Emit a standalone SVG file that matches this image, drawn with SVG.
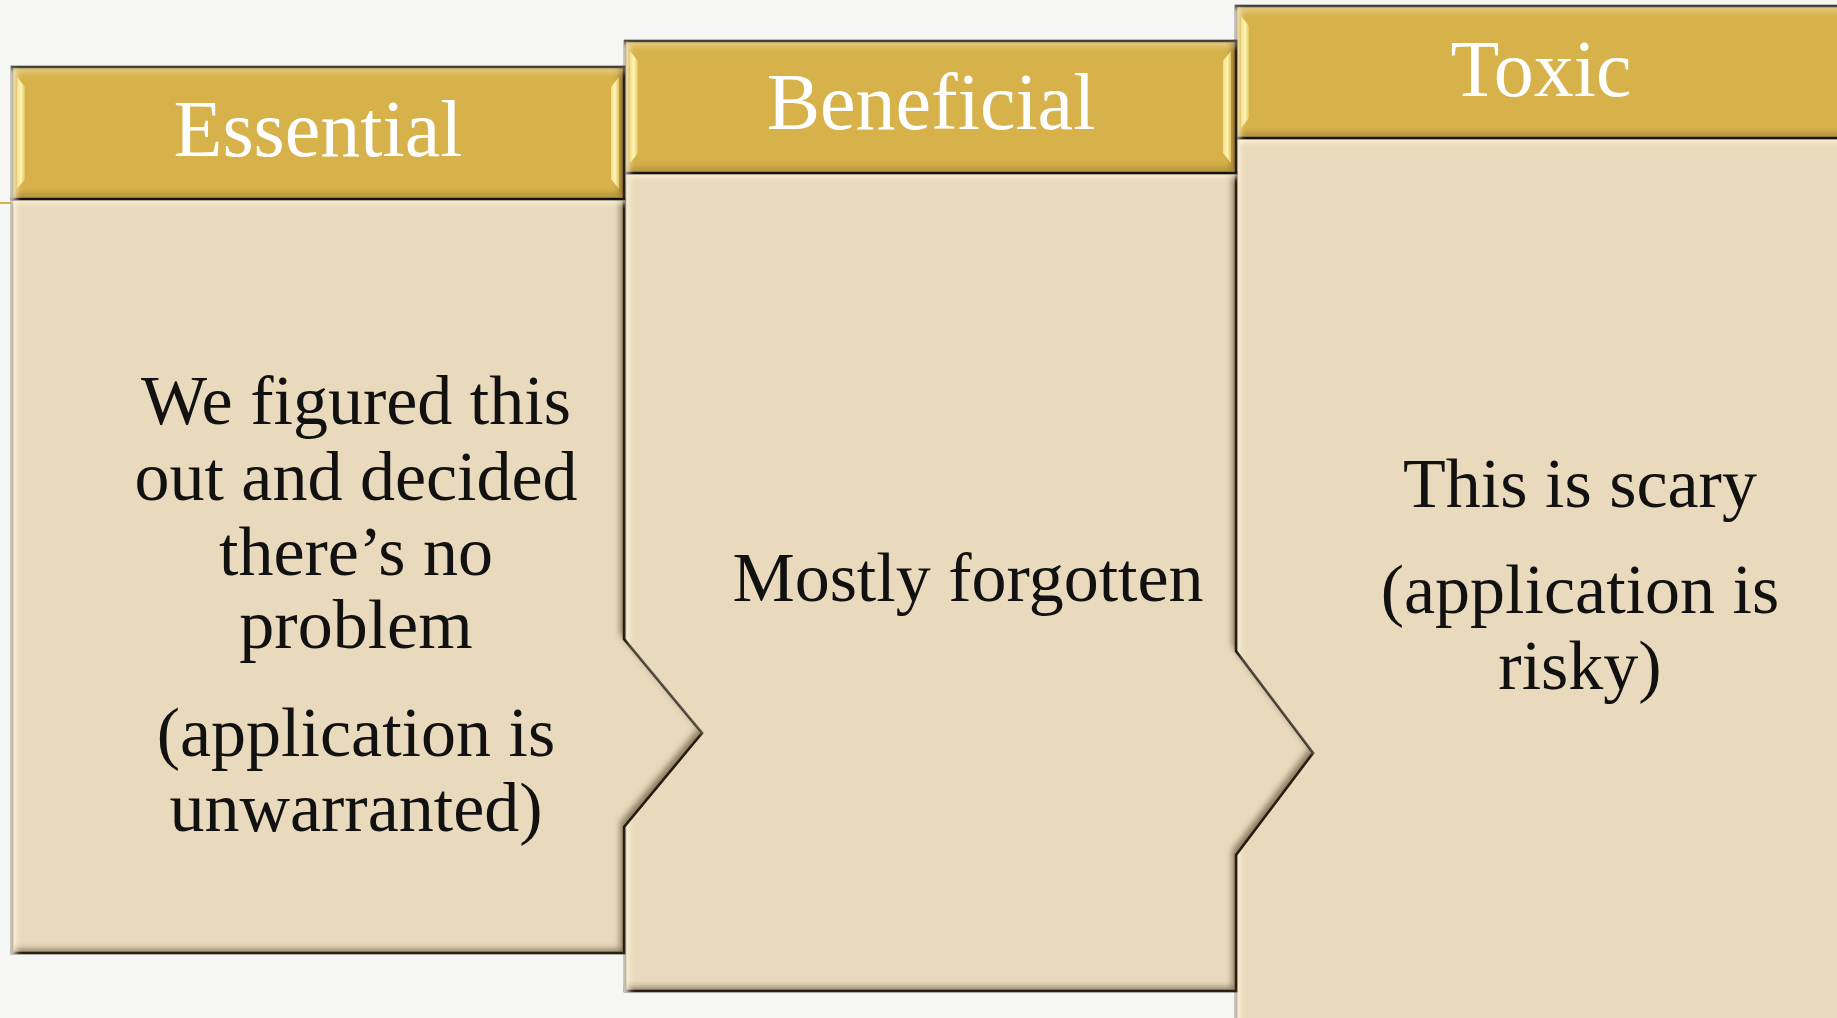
<svg xmlns="http://www.w3.org/2000/svg" width="1837" height="1018" viewBox="0 0 1837 1018">
<defs>
<style>
.hdr{fill:#D7B24A;stroke:#111;stroke-width:2.5}
.body{fill:#EADABD;stroke:#111;stroke-width:2.5}
.ht{font-family:"Liberation Serif","Times New Roman",serif;font-size:80px;fill:#FFFFFF;text-anchor:middle}
.bt{font-family:"Liberation Serif","Times New Roman",serif;font-size:70px;fill:#111;text-anchor:middle}
.side{fill:url(#sideGrad)}
</style>
<linearGradient id="sideGrad" x1="0" y1="0" x2="1" y2="0">
<stop offset="0" stop-color="#F3DE86"/>
<stop offset="0.5" stop-color="#FFF6B8"/>
<stop offset="1" stop-color="#E2C45E"/>
</linearGradient>
<filter id="bevel" x="-3%" y="-3%" width="106%" height="106%" color-interpolation-filters="sRGB">
<feFlood flood-color="#3a2a10" flood-opacity="0.55" result="f"/>
<feComposite in="f" in2="SourceAlpha" operator="out" result="outside"/>
<feOffset in="outside" dx="-5" dy="-5" result="o1"/>
<feGaussianBlur in="o1" stdDeviation="3" result="b1"/>
<feComposite in="b1" in2="SourceAlpha" operator="in" result="shadow"/>
<feFlood flood-color="#FFF6E0" flood-opacity="0.85" result="f2"/>
<feComposite in="f2" in2="SourceAlpha" operator="out" result="outside2"/>
<feOffset in="outside2" dx="5" dy="5" result="o2"/>
<feGaussianBlur in="o2" stdDeviation="3" result="b2"/>
<feComposite in="b2" in2="SourceAlpha" operator="in" result="hl"/>
<feMerge><feMergeNode in="SourceGraphic"/><feMergeNode in="shadow"/><feMergeNode in="hl"/></feMerge>
</filter>
</defs>
<rect width="1837" height="1018" fill="#F6F6F5"/>
<rect x="0" y="202" width="11" height="2" fill="#D7B24A"/>

<g id="toxic">
<path class="body" filter="url(#bevel)" d="M1236,138 H1848 V1040 H1236 Z"/>
<rect class="hdr" filter="url(#bevel)" x="1236" y="6" width="612" height="132"/>
<polygon class="side" points="1241,16 1249,26 1249,118 1241,128"/>
<text class="ht" x="1541" y="96">Toxic</text>
<text class="bt" x="1580" y="507">This is scary</text>
<text class="bt" x="1580" y="613">(application is</text>
<text class="bt" x="1580" y="689">risky)</text>
</g>

<g id="beneficial">
<path class="body" filter="url(#bevel)" d="M625,173 H1236 V651 L1313,753 L1236,855 V991 H625 Z"/>
<rect class="hdr" filter="url(#bevel)" x="625" y="41" width="611" height="132"/>
<polygon class="side" points="630,51 638,61 638,153 630,163"/>
<polygon class="side" points="1231,51 1223,61 1223,153 1231,163"/>
<text class="ht" x="931" y="129">Beneficial</text>
<text class="bt" x="968" y="601">Mostly forgotten</text>
</g>

<g id="essential">
<path class="body" filter="url(#bevel)" d="M12,199 H624 V639 L702,733 L624,827 V953 H12 Z"/>
<rect class="hdr" filter="url(#bevel)" x="12" y="67" width="612" height="132"/>
<polygon class="side" points="17,77 25,87 25,179 17,189"/>
<polygon class="side" points="619,77 611,87 611,179 619,189"/>
<text class="ht" x="318" y="156">Essential</text>
<text class="bt" x="356" y="424">We figured this</text>
<text class="bt" x="356" y="500">out and decided</text>
<text class="bt" x="356" y="575">there’s no</text>
<text class="bt" x="356" y="648">problem</text>
<text class="bt" x="356" y="756">(application is</text>
<text class="bt" x="356" y="831">unwarranted)</text>
</g>

<g id="connectors"></g>
</svg>
